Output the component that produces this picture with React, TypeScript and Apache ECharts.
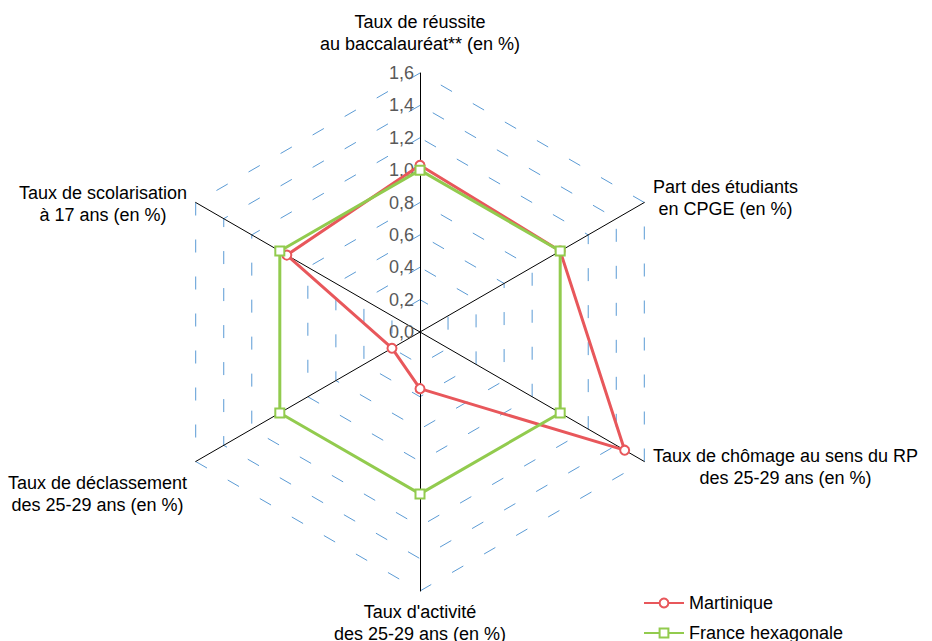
import React, { useEffect, useRef } from "react";
import * as echarts from "echarts";

// Indicators in clockwise order starting from the top
const indicatorNames: string[] = [
  "Taux de réussite\nau baccalauréat** (en %)",
  "Part des étudiants\nen CPGE (en %)",
  "Taux de chômage au sens du RP\ndes 25-29 ans (en %)",
  "Taux d'activité\ndes 25-29 ans (en %)",
  "Taux de déclassement\ndes 25-29 ans (en %)",
  "Taux de scolarisation\nà 17 ans (en %)",
];
const axisMax = 1.6;
const martinique: number[] = [1.03, 1.0, 1.46, 0.35, 0.2, 0.95];
const franceHexagonale: number[] = [1.0, 1.0, 1.0, 1.0, 1.0, 1.0];
const seriesNames: string[] = ["Martinique", "France hexagonale"];

const RED = "#E8575B";
const GREEN = "#92CB4E";
const FONT = "'Liberation Sans', Arial, Helvetica, sans-serif";

// label nudges (spacer heights) per indicator, clockwise order
const nameSpacerTop: number[] = [0, 0, 0, 0, 54, 12];
const nameSpacerBottom: number[] = [8, 0, 0, 0, 0, 0];
const legendTops: number[] = [589, 619];

// ECharts radar places indicators counter-clockwise: reorder
const order = [0, 5, 4, 3, 2, 1];
const reorder = <T,>(arr: T[]): T[] => order.map((i) => arr[i]);

export default function App() {
  const ref = useRef<HTMLDivElement>(null);
  useEffect(() => {
    if (!ref.current) return;
    const chart = echarts.init(ref.current, undefined, { renderer: "svg" });
    const names = reorder(indicatorNames);
    const tops = reorder(nameSpacerTop);
    const bottoms = reorder(nameSpacerBottom);
    const rich: any = {
      c: { align: "center", fontSize: 18, lineHeight: 22, color: "#000", fontFamily: FONT },
    };
    tops.concat(bottoms).forEach((h) => {
      if (h > 0) rich["s" + h] = { fontSize: 2, lineHeight: h, height: h };
    });
    chart.setOption({
      animation: false,
      textStyle: { fontFamily: FONT },
      radar: {
        center: [420, 332],
        radius: 259,
        startAngle: 90,
        splitNumber: 8,
        shape: "polygon",
        axisNameGap: 10,
        indicator: names.map((n, i) => ({
          name: n,
          min: 0,
          max: axisMax,
          axisLabel: i === 0 ? { show: true } : undefined,
        })),
        axisName: {
          color: "#000",
          fontSize: 18,
          fontFamily: FONT,
          rich,
          formatter: (value: string) => {
            const idx = names.indexOf(value);
            const lines = value.split("\n").map((l) => "{c|" + l + "}");
            const t = tops[idx];
            const b = bottoms[idx];
            if (t > 0) lines.unshift("{s" + t + "| }");
            if (b > 0) lines.push("{s" + b + "| }");
            return lines.join("\n");
          },
        },
        axisLine: { lineStyle: { color: "#000", width: 1 } },
        axisTick: { show: false },
        axisLabel: {
          show: false,
          color: "#595959",
          fontSize: 18,
          fontFamily: FONT,
          margin: 6,
          formatter: (v: number) => v.toFixed(1).replace(".", ","),
        },
        splitLine: { lineStyle: { color: "#5B9BD5", width: 1, type: [13, 24] } },
        splitArea: { show: false },
      },
      grid: { left: 0, top: 0, width: 10, height: 10, show: false },
      xAxis: { show: false, type: "value" },
      yAxis: { show: false, type: "value" },
      legend: seriesNames.map((n, i) => ({
        orient: "vertical",
        left: 638,
        top: legendTops[i],
        itemWidth: 40,
        itemHeight: 11,
        itemGap: 6,
        textStyle: { fontSize: 18, color: "#000", fontFamily: FONT },
        data: [n],
      })),
      series: [
        {
          type: "radar",
          symbolSize: 9,
          data: [
            {
              name: seriesNames[0],
              value: reorder(martinique),
              symbol: "emptyCircle",
              lineStyle: { color: RED, width: 3 },
              itemStyle: { color: RED, borderWidth: 2 },
            },
            {
              name: seriesNames[1],
              value: reorder(franceHexagonale),
              symbol: "emptyRect",
              lineStyle: { color: GREEN, width: 3 },
              itemStyle: { color: GREEN, borderWidth: 2 },
            },
          ],
        },
        {
          type: "line",
          name: seriesNames[0],
          data: [],
          symbol: "emptyCircle",
          color: RED,
          lineStyle: { color: RED, width: 3 },
          itemStyle: { color: RED, borderWidth: 2 },
        },
        {
          type: "line",
          name: seriesNames[1],
          data: [],
          symbol: "emptyRect",
          color: GREEN,
          lineStyle: { color: GREEN, width: 3 },
          itemStyle: { color: GREEN, borderWidth: 2 },
        },
      ],
    });
    return () => chart.dispose();
  }, []);
  return (
    <div
      ref={ref}
      style={{ position: "absolute", left: 0, top: 0, width: 932, height: 641, background: "#fff" }}
    />
  );
}
